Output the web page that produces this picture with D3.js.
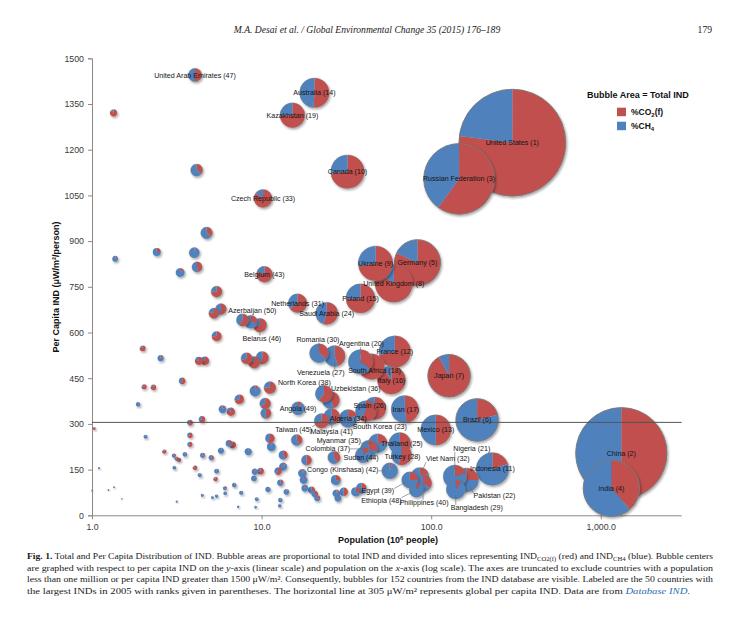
<!DOCTYPE html>
<html><head><meta charset="utf-8">
<script src="https://cdn.jsdelivr.net/npm/d3@7"></script>
<style>body{margin:0;background:#fff} svg{display:block}</style>
</head><body>
<svg id="c" width="740" height="619"></svg>
<script>
// ---------------- DATA ----------------
const labels = [
 "United States (1)","China (2)","Russian Federation (3)","India (4)","Germany (5)","Brazil (6)","Japan (7)","United Kingdom (8)","Ukraine (9)","Canada (10)",
 "Indonesia (11)","France (12)","Mexico (13)","Australia (14)","Poland (15)","Italy (16)","Iran (17)","South Africa (18)","Kazakhstan (19)","Argentina (20)",
 "Nigeria (21)","Pakistan (22)","South Korea (23)","Saudi Arabia (24)","Thailand (25)","Spain (26)","Venezuela (27)","Turkey (28)","Bangladesh (29)","Romania (30)",
 "Netherlands (31)","Viet Nam (32)","Czech Republic (33)","Algeria (34)","Myanmar (35)","Uzbekistan (36)","Colombia (37)","North Korea (38)","Egypt (39)","Philippines (40)",
 "Malaysia (41)","Congo (Kinshasa) (42)","Belgium (43)","Sudan (44)","Taiwan (45)","Belarus (46)","United Arab Emirates (47)","Ethiopia (48)","Angola (49)","Azerbaijan (50)"
];
// population (10^6 people) for labelled countries then unlabelled ones
const population = [
 301,1322,146,1154,83,186.5,127.5,60.2,47,32.1,
 229.7,61,106.4,20.5,38.3,58.3,69.9,44.5,15.2,38.3,
 137.8,161.5,41.2,24.2,65.3,46.5,27,66.8,139.6,21.8,
 16.3,85.7,10.2,32.4,48.4,25.6,42.9,23.3,74.8,89.6,
 25.9,57,10.4,39.7,22.6,9.77,4.05,81.9,16.4,8.65,
 // unlabelled
 1.0,1.03,1.10,1.25,1.35,1.34,1.37,1.50,1.87,1.99,
 2.03,2.07,2.30,2.41,2.54,2.67,3.04,3.06,3.16,3.26,
 3.16,3.31,3.40,3.53,3.78,3.78,3.78,4.01,4.05,4.14,
 4.16,4.27,4.32,4.45,4.49,4.47,4.63,4.74,5.05,5.14,
 5.24,5.35,5.43,5.43,5.43,5.43,5.76,5.76,5.89,6.08,
 6.10,6.43,6.59,6.74,6.90,7.28,7.38,7.58,7.73,8.16,
 8.34,9.01,9.04,9.13,9.17,9.22,9.36,9.86,10.1,10.5,
 10.6,10.9,11.2,11.2,11.4,12.5,12.8,12.9,12.9,13.4,
 13.4,14.0,16.1,17.4,17.7,18.0,18.4,19.7,20.6,21.3,
 26.7,27.4,27.6,28.2,30.5,35.9,38.8
];
// per capita IND (µW/m²/person)
const perCapita = [
 1223,203.5,1104,88.6,829,313,458,761,827,1128,
 152,537,280,1387,712,444,348,488,1313,504,
 127,116,342,663,236,351,523,198,85,532,
 696,127,1040,318,237,378,218,399,116,105,
 324,146,791,198,310,624,1445,83,351,635,
 81,285,155,83,92,1321,842,54,364,548,
 422,258,420,864,516,209,196,156,185,182,
 45,797,441,200,304,263,233,862,156,1133,
 815,507,132,315,197,66,507,927,189,58,
 663,119,734,588,145,63,677,212,348,89,
 72,236,340,231,99,28,381,74,641,515,
 209,121,502,143,408,27,53,145,517,367,
 335,85,419,253,225,145,31,50,107,198,
 160,77,247,138,116,89,181,83,70,56,
 190,116,72,56,77,77,89
];
// share of IND from CO2(f) (red slice); remainder is CH4 (blue slice)
const co2Share = [
 0.77,0.5,0.6,0.385,0.82,0.21,0.92,0.85,0.72,0.73,
 0.2,0.72,0.5,0.51,0.75,0.9,0.48,0.7,0.75,0.35,
 0.2,0.25,0.6,0.55,0.5,0.75,0.45,0.55,0.1,0.35,
 0.65,0.2,0.85,0.2,0.25,0.45,0.3,0.6,0.25,0.35,
 0.45,0.05,0.8,0.15,0.7,0.7,0.5,0.1,0.1,0.3,
 0.1,0.9,0.1,0.9,0.1,0.85,0.15,0.1,0.1,0.8,
 0.8,0.1,0.8,0.25,0.2,0.85,0.3,0.1,0.7,0.5,
 0.1,0.15,0.6,0.1,0.6,0.7,0.6,0.03,0.85,0.35,
 0.45,0.8,0.1,0.7,0.3,0.1,0.8,0.35,0.4,0.1,
 0.8,0.8,0.75,0.75,0.1,0.1,0.5,0.05,0.15,0.3,
 0.1,0.3,0.8,0.7,0.1,0.1,0.7,0.1,0.6,0.7,
 0.05,0.1,0.85,0.1,0.1,0.1,0.1,0.7,0.55,0.65,
 0.5,0.1,0.75,0.6,0.05,0.6,0.1,0.1,0.3,0.4,
 0.1,0.1,0.4,0.1,0.1,0.1,0.5,0.4,0.4,0.3,
 0.4,0.3,0.1,0.1,0.5,0.3,0.3
];
const yTickValues = [0,150,300,450,600,750,900,1050,1200,1350,1500];
const xTickValues = [1,10,100,1000];
const globalPerCapita = 305;
const legendItems = ["CO2(f)","CH4"];

// ---------------- LAYOUT ----------------
const svg = d3.select("#c");
const RED = "#c0504d", BLUE = "#4f81bd";
const x = d3.scaleLog().domain([1,3000]).range([92,681.7]);
const y = d3.scaleLinear().domain([0,1500]).range([515.3,58.3]);
const totals = population.map((p,i)=>p*perCapita[i]);
const r = d3.scaleSqrt().domain([0,400000]).range([0,55.7]);

const defs = svg.append("defs");
const f = defs.append("filter").attr("id","sh").attr("x","-50%").attr("y","-50%").attr("width","200%").attr("height","200%");
f.append("feDropShadow").attr("dx",1.2).attr("dy",1.6).attr("stdDeviation",1.2).attr("flood-color","#000").attr("flood-opacity",0.35);

// header
svg.append("text").attr("x",367).attr("y",33).attr("text-anchor","middle")
  .attr("font-family","Liberation Serif, serif").attr("font-style","italic").attr("font-size",9.6).attr("fill","#222")
  .text("M.A. Desai et al. / Global Environmental Change 35 (2015) 176–189");
svg.append("text").attr("x",712).attr("y",33).attr("text-anchor","end")
  .attr("font-family","Liberation Serif, serif").attr("font-size",9.6).attr("fill","#222").text("179");

// axes
const axisColor = "#8a8a8a";
const gy = svg.append("g").attr("transform","translate(92,0)")
  .call(d3.axisLeft(y).tickValues(yTickValues).tickSize(4).tickPadding(4).tickFormat(d3.format("d")));
const gx = svg.append("g").attr("transform","translate(0,515.3)")
  .call(d3.axisBottom(x).tickValues(xTickValues).tickSize(4).tickPadding(4).tickFormat(d3.format(",.1f")));
[gx,gy].forEach(g=>{
  g.select(".domain").attr("stroke",axisColor).attr("stroke-width",1);
  g.selectAll(".tick line").attr("stroke",axisColor);
  g.selectAll(".tick text").attr("font-family","Liberation Sans, Arial, sans-serif").attr("font-size",8.8).attr("fill","#3a3a3a");
});
gx.select(".domain").attr("d","M92,0.5H681.7");

// axis titles
svg.append("text").attr("transform","translate(59,287) rotate(-90)").attr("text-anchor","middle")
  .attr("font-family","Liberation Sans, Arial, sans-serif").attr("font-weight","bold").attr("font-size",9).attr("fill","#111")
  .text("Per Capita IND (μW/m²/person)");
const xt = svg.append("text").attr("x",388).attr("y",543).attr("text-anchor","middle")
  .attr("font-family","Liberation Sans, Arial, sans-serif").attr("font-weight","bold").attr("font-size",9).attr("fill","#111");
xt.append("tspan").text("Population (10");
xt.append("tspan").attr("font-size",6).attr("dy",-3.5).text("6");
xt.append("tspan").attr("dy",3.5).text(" people)");

// bubbles
const idx = d3.range(population.length).sort((a,b)=>totals[b]-totals[a]);
const pie = d3.pie().sort(null).value(d=>d);
const bubbles = svg.append("g");
idx.forEach(i=>{
  const rad = r(totals[i]);
  const g = bubbles.append("g").attr("transform",`translate(${x(population[i])},${y(perCapita[i])})`).attr("filter","url(#sh)");
  const arc = d3.arc().innerRadius(0).outerRadius(rad);
  g.selectAll("path").data(pie([co2Share[i],1-co2Share[i]])).join("path")
    .attr("d",arc).attr("fill",(d,k)=>k===0?RED:BLUE);
  if (rad>5) g.append("circle").attr("r",rad).attr("fill","none").attr("stroke","#7a7a7a").attr("stroke-width",rad>20?1:0.6).attr("stroke-opacity",rad>20?0.9:0.6);
});

// global per capita line
svg.append("line").attr("x1",92).attr("x2",681.7).attr("y1",y(globalPerCapita)).attr("y2",y(globalPerCapita))
  .attr("stroke","#555").attr("stroke-width",1);

// labels
const place = {
 "Azerbaijan (50)":[1.5,-11.5,0],"Belarus (46)":[2,13,1],"Romania (30)":[-1,-14,1],"Argentina (20)":[1,-18,1],
 "Venezuela (27)":[-14,17,1],"North Korea (38)":[-19.5,-11,1],"Uzbekistan (36)":[25,-12,1],"South Korea (23)":[14,15,1],
 "Taiwan (45)":[-28,8.5,1],"Malaysia (41)":[0,14.6,1],"Myanmar (35)":[-39,-2.5,1],"Colombia (37)":[-41,0,1],
 "Sudan (44)":[-2,3,0],"Thailand (25)":[2,0,0],"Turkey (28)":[1,2,0],"Congo (Kinshasa) (42)":[-47,-1,1],
 "Viet Nam (32)":[28,-18,1],"Egypt (39)":[-32,11,1],"Ethiopia (48)":[-35,10,1],"Philippines (40)":[1,19,1],
 "Nigeria (21)":[17,-28,1],"Pakistan (22)":[28,16,1],"Bangladesh (29)":[21,18,1],"Spain (26)":[-5,-3,0],
 "South Africa (18)":[3,4,0],"Iran (17)":[1,0,0]
};
const lab = svg.append("g");
labels.forEach((t,i)=>{
  const cx = x(population[i]), cy = y(perCapita[i]);
  const p = place[t] || [0,0,0];
  const tx = cx+p[0], ty = cy+p[1];
  const te = lab.append("text").attr("x",tx).attr("y",ty+2.5).attr("text-anchor","middle")
    .attr("font-family","Liberation Sans, Arial, sans-serif").attr("font-size",7.1).attr("fill","#151515").text(t);
  if (p[2]) {
    const b = te.node().getBBox();
    const px = Math.max(b.x, Math.min(cx, b.x+b.width));
    const py = Math.max(b.y+1, Math.min(cy, b.y+b.height-1));
    const rad = r(totals[i]);
    const dx = px-cx, dy = py-cy, d = Math.hypot(dx,dy)||1;
    const k = Math.min(rad*0.6, d);
    lab.insert("line","text").attr("x1",px).attr("y1",py).attr("x2",cx+dx/d*k).attr("y2",cy+dy/d*k)
      .attr("stroke","#666").attr("stroke-width",0.6);
  }
});

// legend
svg.append("text").attr("x",587).attr("y",98).attr("font-family","Liberation Sans, Arial, sans-serif")
  .attr("font-weight","bold").attr("font-size",9).attr("fill","#111").text("Bubble Area = Total IND");
legendItems.forEach((it,k)=>{
  const yy = 107.7 + k*14;
  svg.append("rect").attr("x",617).attr("y",yy).attr("width",9).attr("height",8.5).attr("fill",k===0?RED:BLUE);
  const t = svg.append("text").attr("x",631).attr("y",yy+7.5).attr("font-family","Liberation Sans, Arial, sans-serif")
    .attr("font-weight","bold").attr("font-size",8.5).attr("fill","#111");
  const m = it.match(/^([A-Z]+)(\d)(.*)$/);
  t.append("tspan").text("%"+m[1]);
  t.append("tspan").attr("font-size",6).attr("dy",2).text(m[2]);
  t.append("tspan").attr("dy",-2).text(m[3]);
});

// caption
const cap = svg.append("g").attr("font-family","Liberation Serif, serif").attr("font-size",8.7).attr("fill","#1a1a1a");
const L1 = cap.append("text").attr("x",27).attr("y",559).attr("textLength",686).attr("lengthAdjust","spacingAndGlyphs");
L1.append("tspan").attr("font-weight","bold").text("Fig. 1.");
L1.append("tspan").text("  Total and Per Capita Distribution of IND. Bubble areas are proportional to total IND and divided into slices representing IND");
L1.append("tspan").attr("font-size",6).attr("dy",1.8).text("CO2(f)");
L1.append("tspan").attr("dy",-1.8).text(" (red) and IND");
L1.append("tspan").attr("font-size",6).attr("dy",1.8).text("CH4");
L1.append("tspan").attr("dy",-1.8).text(" (blue). Bubble centers");
const L2 = cap.append("text").attr("x",27).attr("y",570.5).attr("textLength",686).attr("lengthAdjust","spacingAndGlyphs");
L2.append("tspan").text("are graphed with respect to per capita IND on the ");
L2.append("tspan").attr("font-style","italic").text("y");
L2.append("tspan").text("-axis (linear scale) and population on the ");
L2.append("tspan").attr("font-style","italic").text("x");
L2.append("tspan").text("-axis (log scale). The axes are truncated to exclude countries with a population");
cap.append("text").attr("x",27).attr("y",582).attr("textLength",686).attr("lengthAdjust","spacingAndGlyphs")
  .text("less than one million or per capita IND greater than 1500 μW/m². Consequently, bubbles for 152 countries from the IND database are visible. Labeled are the 50 countries with");
const L4 = cap.append("text").attr("x",27).attr("y",593.5).attr("textLength",663).attr("lengthAdjust","spacingAndGlyphs");
L4.append("tspan").text("the largest INDs in 2005 with ranks given in parentheses. The horizontal line at 305 μW/m² represents global per capita IND. Data are from ");
L4.append("tspan").attr("font-style","italic").attr("fill","#2a6db0").text("Database IND");
L4.append("tspan").text(".");
</script>
</body></html>
